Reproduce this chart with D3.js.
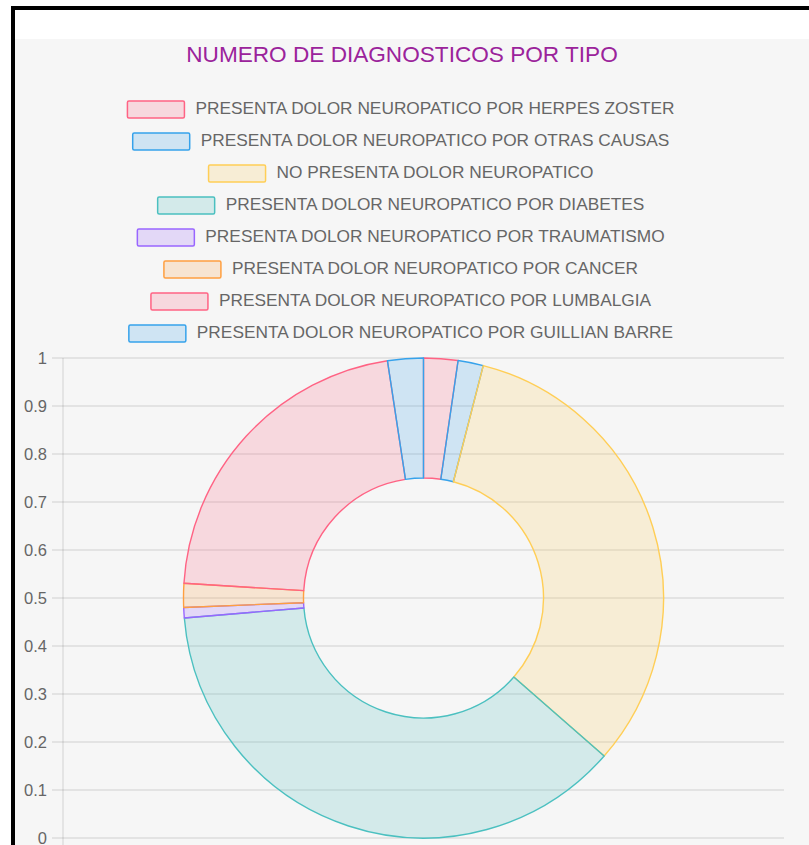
<!DOCTYPE html>
<html>
<head>
<meta charset="utf-8">
<script src="https://cdn.jsdelivr.net/npm/d3@7"></script>
<style>
  html, body { margin: 0; padding: 0; background: #fff; }
  body { width: 809px; height: 845px; overflow: hidden; }
  svg { display: block; font-family: "Liberation Sans", Arial, Helvetica, sans-serif; }
</style>
</head>
<body>
<div id="chart"></div>
<script>
// chart data
var title = "NUMERO DE DIAGNOSTICOS POR TIPO";

var labels = [
  "PRESENTA DOLOR NEUROPATICO POR HERPES ZOSTER",
  "PRESENTA DOLOR NEUROPATICO POR OTRAS CAUSAS",
  "NO PRESENTA DOLOR NEUROPATICO",
  "PRESENTA DOLOR NEUROPATICO POR DIABETES",
  "PRESENTA DOLOR NEUROPATICO POR TRAUMATISMO",
  "PRESENTA DOLOR NEUROPATICO POR CANCER",
  "PRESENTA DOLOR NEUROPATICO POR LUMBALGIA",
  "PRESENTA DOLOR NEUROPATICO POR GUILLIAN BARRE"
];

// share of each slice (percent, estimated from the arc angles)
var values = [2.3, 1.7, 32.4, 37.2, 0.7, 1.6, 21.6, 2.4];

var yTicks = [0, 0.1, 0.2, 0.3, 0.4, 0.5, 0.6, 0.7, 0.8, 0.9, 1];

var colors = [
  [255, 99, 132], [54, 162, 235], [255, 206, 86], [75, 192, 192],
  [153, 102, 255], [255, 159, 64], [255, 99, 132], [54, 162, 235]
];

// page frame
var W = 809, H = 845;
var svg = d3.select("#chart").append("svg")
    .attr("width", W)
    .attr("height", H);

// black frame + white strip + grey canvas
svg.append("rect").attr("x", 0).attr("y", 0).attr("width", W).attr("height", H).attr("fill", "#fff");
svg.append("rect").attr("x", 15).attr("y", 39).attr("width", W - 15).attr("height", H - 39).attr("fill", "#f6f6f6");
svg.append("rect").attr("x", 11).attr("y", 6).attr("width", W - 11).attr("height", 4).attr("fill", "#000");
svg.append("rect").attr("x", 11).attr("y", 6).attr("width", 4).attr("height", H - 6).attr("fill", "#000");

// title
svg.append("text")
    .attr("x", 402)
    .attr("y", 62)
    .attr("text-anchor", "middle")
    .attr("fill", "#9b239b")
    .style("font-size", "22.6px")
    .text(title);

// legend, one centred row per item
var legendCx = 400.5, legendY0 = 108, legendStep = 32;
var boxW = 57, boxH = 17;
var legend = svg.append("g");
labels.forEach(function(l, i) {
  var c = colors[i];
  var row = legend.append("g");
  var txt = row.append("text")
      .attr("y", legendY0 + i * legendStep + 6)
      .attr("fill", "#666")
      .style("font-size", "17.3px")
      .text(l);
  var tw = txt.node().getComputedTextLength();
  var total = boxW + 2 + 10 + tw;
  var x0 = legendCx - total / 2;
  row.insert("rect", "text")
      .attr("x", x0 + 1)
      .attr("y", legendY0 + i * legendStep - boxH / 2 + 1.5)
      .attr("width", boxW)
      .attr("height", boxH)
      .attr("rx", 1.5)
      .attr("fill", "rgba(" + c + ",0.2)")
      .attr("stroke", "rgb(" + c + ")")
      .attr("stroke-width", 1.5);
  txt.attr("x", x0 + boxW + 2 + 10);
});

// y axis (pie options leave the scale visible)
var area = {left: 63, right: 784, top: 358, bottom: 838};
var y = d3.scaleLinear().domain([0, 1]).range([area.bottom, area.top]);

var grid = svg.append("g");
grid.selectAll("line.h")
  .data(yTicks)
  .enter().append("line")
    .attr("class", "h")
    .attr("x1", 52)
    .attr("x2", area.right)
    .attr("y1", function(d) { return y(d); })
    .attr("y2", function(d) { return y(d); })
    .attr("stroke", "rgba(0,0,0,0.1)")
    .attr("stroke-width", 1.4);
grid.append("line")
    .attr("x1", area.left).attr("x2", area.left)
    .attr("y1", area.top).attr("y2", H)
    .attr("stroke", "rgba(0,0,0,0.1)")
    .attr("stroke-width", 1.4);

grid.selectAll("text")
  .data(yTicks)
  .enter().append("text")
    .attr("x", 47)
    .attr("y", function(d) { return y(d); })
    .attr("dy", "0.35em")
    .attr("text-anchor", "end")
    .attr("fill", "#666")
    .style("font-size", "16.5px")
    .text(function(d) { return d3.format("")(d); });

// doughnut
var cx = (area.left + area.right) / 2, cy = y(0.5);
var R = (area.bottom - area.top) / 2;
var pie = d3.pie().sort(null).value(function(d) { return d; });
var arc = d3.arc().innerRadius(R / 2).outerRadius(R);

svg.append("g")
    .attr("transform", "translate(" + cx + "," + cy + ")")
  .selectAll("path")
  .data(pie(values))
  .enter().append("path")
    .attr("d", arc)
    .attr("fill", function(d, i) { return "rgba(" + colors[i] + ",0.2)"; })
    .attr("stroke", function(d, i) { return "rgb(" + colors[i] + ")"; })
    .attr("stroke-width", 1.4)
    .attr("stroke-linejoin", "round");
</script>
</body>
</html>
